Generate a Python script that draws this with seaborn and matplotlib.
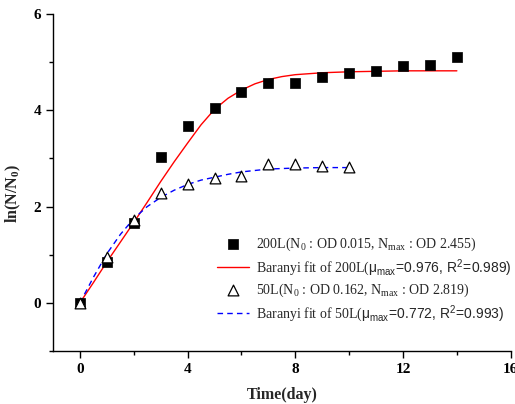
import numpy as np
import pandas as pd
import matplotlib
matplotlib.use("Agg")
import matplotlib.pyplot as plt
import seaborn as sns

# ---- data ----
days_200 = [0, 1, 2, 3, 4, 5, 6, 7, 8, 9, 10, 11, 12, 13, 14]
ln_200 = [0.0, 0.84, 1.66, 3.02, 3.67, 4.05, 4.37, 4.56, 4.56, 4.69, 4.78, 4.81, 4.92, 4.94, 5.11]

days_50 = [0, 1, 2, 3, 4, 5, 6, 7, 8, 9, 10]
ln_50 = [0.0, 0.96, 1.73, 2.28, 2.46, 2.60, 2.63, 2.88, 2.88, 2.85, 2.82]

fit_t_200 = [0, 0.5, 1, 1.5, 2, 2.5, 3, 3.5, 4, 4.5, 5, 5.5, 6, 6.5, 7, 7.5, 8, 9, 10, 12, 14]
fit_y_200 = [0.0, 0.42, 0.85, 1.26, 1.67, 2.09, 2.52, 2.93, 3.32, 3.70, 4.02, 4.25, 4.42, 4.55, 4.64, 4.70, 4.74, 4.78, 4.80, 4.82, 4.82]

fit_t_50 = [0, 0.5, 1, 1.5, 2, 2.5, 3, 3.5, 4, 4.5, 5, 5.5, 6, 7, 8, 9, 10]
fit_y_50 = [0.0, 0.53, 1.02, 1.42, 1.75, 2.00, 2.19, 2.34, 2.46, 2.55, 2.61, 2.67, 2.72, 2.78, 2.80, 2.81, 2.81]

xticks = [0, 4, 8, 12, 16]
yticks = [0, 2, 4, 6]

lab_200 = r"200L(N$_0$ : OD 0.015, N$_{max}$ : OD 2.455)"
lab_fit200 = r"Baranyi fit of 200L($\mathsf{\mu_{max}\!=\!0.976,\,R^2\!=\!0.989)}$"
lab_50 = r"50L(N$_0$ : OD 0.162, N$_{max}$ : OD 2.819)"
lab_fit50 = r"Baranyi fit of 50L($\mathsf{\mu_{max}\!=\!0.772,\,R^2\!=\!0.993)}$"

sns.set_theme(style="ticks")
plt.rcParams["font.family"] = ["Liberation Serif", "DejaVu Serif"]
plt.rcParams["mathtext.fontset"] = "custom"
plt.rcParams["mathtext.rm"] = "Liberation Serif"
plt.rcParams["mathtext.it"] = "Liberation Serif"
plt.rcParams["mathtext.bf"] = "Liberation Serif:bold"
plt.rcParams["mathtext.sf"] = "Liberation Sans"

fig = plt.figure(figsize=(5.15, 4.04), dpi=100)
ax = fig.add_axes([0.1029, 0.1312, 0.8888, 0.8341])

df200 = pd.DataFrame({"t": days_200, "y": ln_200})
df50 = pd.DataFrame({"t": days_50, "y": ln_50})
f200 = pd.DataFrame({"t": fit_t_200, "y": fit_y_200})
f50 = pd.DataFrame({"t": fit_t_50, "y": fit_y_50})

sns.scatterplot(data=df200, x="t", y="y", ax=ax, marker="s", s=44, color="black",
                edgecolor="black", linewidth=0.5, label=lab_200, zorder=3)
sns.lineplot(data=f200, x="t", y="y", ax=ax, color="red", linewidth=1.0,
             label=lab_fit200, zorder=2)
sns.scatterplot(data=df50, x="t", y="y", ax=ax, marker="^", s=60, facecolor="white",
                edgecolor="black", linewidth=0.9, label=lab_50, zorder=4)
sns.lineplot(data=f50, x="t", y="y", ax=ax, color="blue", linewidth=1.0,
             linestyle=(0, (4, 3)), label=lab_fit50, zorder=2)

ax.set_xlim(-1, 16)
ax.set_ylim(-1, 6)
ax.set_xticks(xticks)
ax.set_yticks(yticks)
ax.set_xticks([2, 6, 10, 14], minor=True)
ax.set_yticks([-1, 1, 3, 5], minor=True)
ax.tick_params(axis="both", which="major", direction="out", length=5, width=1,
               labelsize=11, color="black", labelcolor="black")
ax.tick_params(axis="both", which="minor", direction="out", length=3, width=1, color="black")
for lbl in ax.get_xticklabels() + ax.get_yticklabels():
    lbl.set_fontweight("bold")

for side in ["top", "right"]:
    ax.spines[side].set_visible(False)
for side in ["left", "bottom"]:
    ax.spines[side].set_color("black")
    ax.spines[side].set_linewidth(1.0)

ax.set_xlabel("Time(day)", fontsize=11.5, fontweight="bold", labelpad=8)
ax.set_ylabel(r"ln(N/N$_\mathbf{0}$)", fontsize=11.5, fontweight="bold")
ax.yaxis.set_label_coords(-0.066, 0.466)

leg = ax.legend(loc="upper left", bbox_to_anchor=(0.346, 0.36), frameon=False,
                fontsize=10, handlelength=2.3, handletextpad=0.5,
                labelspacing=0.3, borderaxespad=0)

fig.savefig("out.png", dpi=100)
